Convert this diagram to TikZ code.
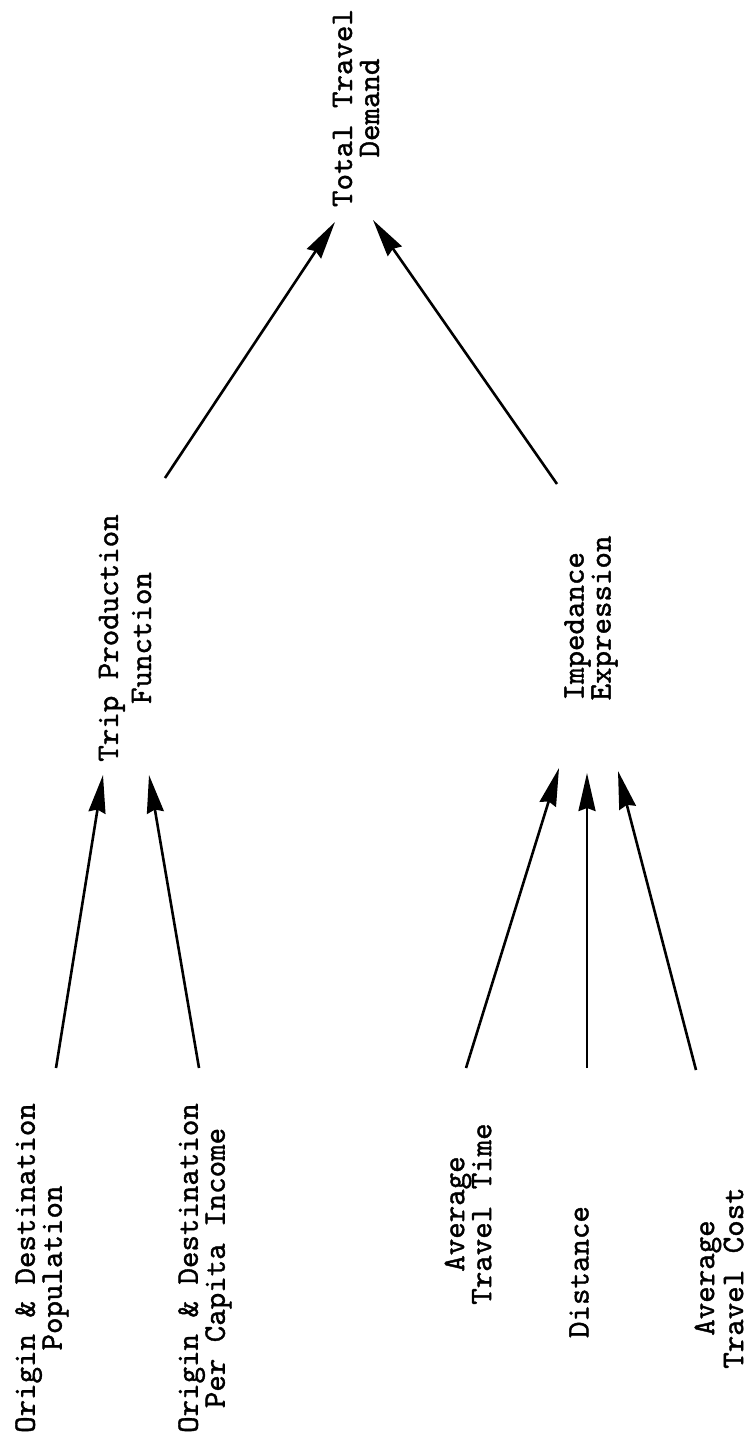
\documentclass[tikz,border=0pt]{standalone}
\usepackage{fontspec}
\newfontfamily\typewriter{lmmono10-regular.otf}[FakeBold=1.2]
\usetikzlibrary{arrows.meta}
\tikzset{
  lbl/.style={rotate=90, align=center, inner sep=0pt,
    font=\typewriter\fontsize{31.4}{27}\selectfont},
  arr/.style={line width=2.6pt,
    -{Stealth[length=38pt, width=17pt, inset=3pt]}}
}
\begin{document}
\begin{tikzpicture}[x=1pt, y=-1pt]
  \useasboundingbox (0,0) rectangle (752,1437);

  % top level
  \node[lbl] (total) at (356,108) {Total Travel\\Demand};

  % middle level
  \node[lbl] (trip) at (125,638) {Trip Production\\[6pt]Function};
  \node[lbl, align=left] (imp) at (591,618) {Impedance\\Expression};

  % bottom level
  \node[lbl] (pop)  at (42,1268)  {Origin \& Destination\\Population};
  \node[lbl] (inc)  at (205,1268) {Origin \& Destination\\Per Capita Income};
  \node[lbl] (time) at (468,1214) {Average\\Travel Time};
  \node[lbl] (dist) at (579,1272) {Distance};
  \node[lbl] (cost) at (719,1278) {Average\\[2pt]Travel Cost};

  % connectors
  \draw[arr] ([shift={(40,-160)}]trip.center) -- ([shift={(-21,114)}]total.center);
  \draw[arr] ([shift={(-34,-134)}]imp.center) -- ([shift={(17,112)}]total.center);
  \draw[arr] ([shift={(14,-200)}]pop.center)  -- ([shift={(-22,137)}]trip.center);
  \draw[arr] ([shift={(-6,-200)}]inc.center)  -- ([shift={(24,137)}]trip.center);
  \draw[arr] ([shift={(-2,-146)}]time.center) -- ([shift={(-32,150)}]imp.center);
  \draw[arr] ([shift={(8,-204)}]dist.center)  -- ([shift={(-4,155)}]imp.center);
  \draw[arr] ([shift={(-23,-208)}]cost.center) -- ([shift={(27,153)}]imp.center);
\end{tikzpicture}
\end{document}
